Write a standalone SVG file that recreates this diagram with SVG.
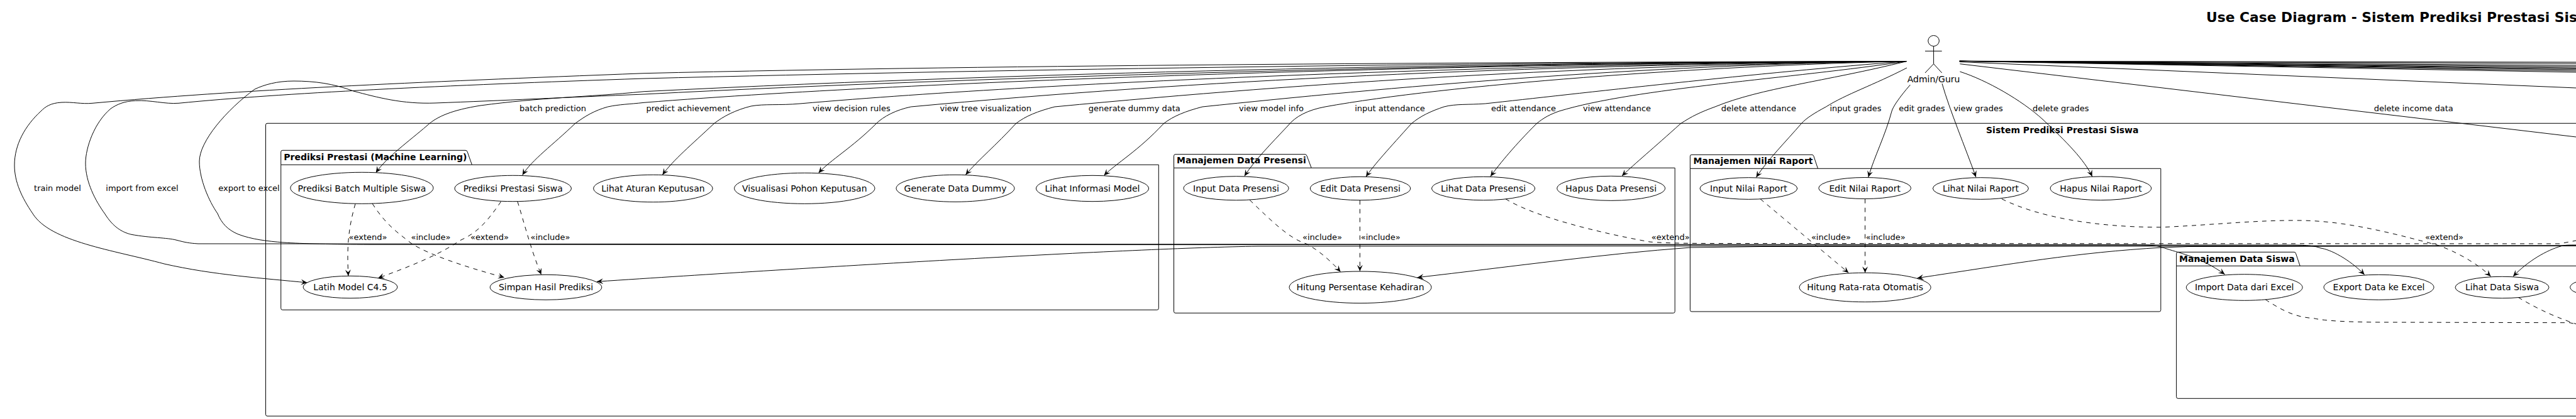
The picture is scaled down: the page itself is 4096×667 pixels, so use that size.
<svg xmlns="http://www.w3.org/2000/svg" width="4096" height="667" viewBox="0 0 4096 667">
<style>
text{font-family:"DejaVu Sans",sans-serif;fill:#000}
.n{font-size:14px;text-anchor:middle}
.l{font-size:13px;text-anchor:middle}
.b{font-size:14px;font-weight:bold}
.t{font-size:21.8px;font-weight:bold}
.p{fill:none;stroke:#000;stroke-width:1}
ellipse{fill:#fff;stroke:#000;stroke-width:1}
.s{fill:none;stroke:#000;stroke-width:1}
.c{fill:none;stroke:#000;stroke-width:1;marker-end:url(#a)}
.d{stroke-dasharray:7 7}
.e{fill:none;stroke:#000;stroke-width:1;stroke-dasharray:7 7}
</style>
<defs>
<marker id="a" markerUnits="userSpaceOnUse" markerWidth="12" markerHeight="12" refX="10" refY="6" orient="auto"><path d="M10 6L0 1.5L4 6L0 10.5Z" fill="#000"/></marker>
</defs>
<rect width="4096" height="667" fill="#fff"/>
<g id="packages">
<path class="p" d="M4096 196.3H425Q422.5 196.3 422.5 198.8V659.8Q422.5 662.3 425 662.3H4096"/>
<path class="p" d="M446.7 262.3V241.8Q446.7 239.3 449.2 239.3H740Q742.6 239.3 743.2 241.8L750.4 262.3H1842.3V490.8Q1842.3 493.3 1839.8 493.3H449.2Q446.7 493.3 446.7 490.8V262.3H750.4"/>
<path class="p" d="M1866.5 267.3V248.2Q1866.5 245.7 1869 245.7H2075Q2077.4 245.7 2078 248.2L2085.2 267.3H2663.2V495.8Q2663.2 498.3 2660.7 498.3H1869Q1866.5 498.3 1866.5 495.8V267.3H2085.2"/>
<path class="p" d="M2687.4 268.3V248.8Q2687.4 246.3 2689.9 246.3H2881Q2883.3 246.3 2884 248.8L2890.5 268.3H3435.8V493.5Q3435.8 496 3433.3 496H2689.9Q2687.4 496 2687.4 493.5V268.3H2890.5"/>
<path class="p" d="M4096 423.3H3460.6V403.8Q3460.6 401.3 3463.1 401.3H3648Q3650 401.3 3650.6 403.8L3657.2 423.3M3460.6 423.3V631.8Q3460.6 634.3 3463.1 634.3H4096"/>
<text class="b" x="3158" y="212">Sistem Prediksi Prestasi Siswa</text>
<text class="b" x="451.3" y="255">Prediksi Prestasi (Machine Learning)</text>
<text class="b" x="1871" y="260">Manajemen Data Presensi</text>
<text class="b" x="2692.6" y="261">Manajemen Nilai Raport</text>
<text class="b" x="3465" y="417">Manajemen Data Siswa</text>
</g>
<g id="connectors">
<path class="c" d="M3032 97.5C2400 99 1600 103 1024 116.7C650 131 380 143 147 164.3C130 166 115 162 98 163C80 164 72 170 65 177C40 200 23 230 23 263C23 290 35 315 52 340C80 385 180 398 261 420C340 438 420 443 488.5 450"/>
<path class="c" d="M3032 97.5C2400 99 1600 110 1024 125C700 136 450 148 284 164.3C262 166 240 159 215.5 160.3C198 161 186 166 176 173C150 195 136 235 136 260C136 290 152 320 166.5 340C180 362 195 370 209 373.3C240 379 265 378 281 382.3C295 386 300 387 315 388L3400 389.5C3425 390 3430 391 3445 396C3470 404 3500 410 3537.6 436.7"/>
<path class="c" d="M3032 97.5C2400 100 1600 120 1024 150C900 155 800 160 692 164C640 166 600 155 562 145C530 133 500 129 467 129C440 129 420 135 405 142C360 175 317 225 317 257C317 285 332 320 346 340C352 355 362 366 379 373C400 381 425 384 451 386C480 388 530 389 588 389.3L3640 390C3665 390 3680 391 3690 395C3705 397 3735 412 3759.7 437.3"/>
<path class="c" d="M3032 97.5C2400 100 1700 112 1024 145.7C930 155 860 155 764 168C720 175 695 185 679 200C650 225 615 250 597.6 275"/>
<path class="c" d="M3032 97.5C2400 100 1500 125 1024 163.3C1000 166 985 166 966.5 170C945 176 930 185 914 197C880 230 845 255 830.7 278.7"/>
<path class="c" d="M3032 97.5C2400 102 1700 128 1272 165C1240 168 1215 165 1194 169C1170 175 1150 185 1135 197C1100 230 1070 255 1053.4 278.3"/>
<path class="c" d="M3032 97.5C2400 104 1900 128 1448.5 170C1425 175 1405 185 1393 197C1355 235 1320 255 1301.6 275.3"/>
<path class="c" d="M3032 97.5C2500 105 2100 130 1677 170C1650 177 1630 185 1615 197C1585 230 1555 255 1535.4 278.3"/>
<path class="c" d="M3032 97.5C2600 103 2200 140 1912 170C1885 177 1865 185 1850 197C1810 240 1775 260 1755.4 279.3"/>
<path class="c" d="M3032 97.5C2700 105 2300 135 2107 170C2080 175 2060 185 2048 200C2020 230 1995 255 1978.8 280.3"/>
<path class="c" d="M3032 97.5C2800 115 2500 150 2361.5 165C2335 167 2315 165 2296 170C2275 177 2258 185 2244 197C2210 235 2185 262 2172 281.3"/>
<path class="c" d="M3032 97.5C2850 125 2600 140 2479 177C2465 182 2455 187 2443 197C2410 230 2385 260 2370 280.7"/>
<path class="c" d="M3032 97.5C2900 130 2800 140 2727 170C2705 178 2690 185 2672 197C2630 235 2600 260 2579 280"/>
<path class="c" d="M3032 108C2980 135 2935 150 2903.5 170C2885 180 2872 188 2864 197C2840 225 2810 255 2792.5 282.3"/>
<path class="c" d="M3037.4 135C3020 155 3010 170 3008 177C2998 215 2980 250 2970.8 282"/>
<path class="c" d="M3088 133C3100 175 3125 235 3141.9 282"/>
<path class="c" d="M3116.4 114C3160 128 3215 160 3248 190C3285 225 3315 255 3326.7 281"/>
<path class="s" d="M3115.8 97.3L4096 99M3115.8 97.3L4096 101M3115.8 97.3L4096 104M3115.8 97.3L4096 106M3115.8 97.3L4096 108M3115.8 97.3L4096 109.5M3115.8 97.3L4096 111M3115.8 97.3L4096 113M3115.8 97.3L4096 115M3115.8 98.5L4096 140M3116.4 101.7L4096 218"/>
<path class="c" d="M4096 391L2000 392C1800 395 1300 425 949 448.3"/>
<path class="c" d="M4096 391L2800 392.5L2688 394C2550 404 2400 425 2253.7 441.7"/>
<path class="c" d="M4096 391.5L3480 392.5L3438 394C3300 402 3200 420 3048.5 442.7"/>
<path class="c" d="M4096 390C4085 390 4078 390 4072.7 391.7C4050 398 4020 415 3996 440"/>
<path class="c d" d="M565 324.3C552 370 552 400 553.8 439.3"/>
<path class="c d" d="M592 324C615 360 635 372 653 386.7C680 405 740 425 802 441.7"/>
<path class="c d" d="M796.7 320.7C770 360 755 372 731 383C700 405 650 425 601 442.7"/>
<path class="c d" d="M822.9 320.7C835 360 845 400 860.7 437.3"/>
<path class="c d" d="M1987 318.3C2020 350 2050 380 2077 388C2100 400 2120 420 2131.6 432.7"/>
<path class="c d" d="M2162.3 318.7L2162.3 431.7"/>
<path class="c d" d="M2799 316.7L2939.4 434.3"/>
<path class="c d" d="M2965.6 316.7L2965.6 434.3"/>
<path class="e" d="M2394 316.7C2440 345 2540 370 2623 385C2650 387.5 2700 387.5 2760 387.5L4070 388L4096 383"/>
<path class="c d" d="M3183 316.7C3240 345 3330 362 3438 361.7C3520 358 3590 350 3660 351C3730 352 3800 370 3875 390C3905 400 3940 420 3960.5 440"/>
<path class="e" d="M3602 476.7C3630 495 3650 505 3679 506.7C3700 512 3760 513 3790 513L4086 513.7L4096 516"/>
<path class="e" d="M4004 473.3C4040 495 4070 507 4096 515.7"/>
</g>
<g id="connector-labels">
<text class="l" x="91.5" y="304">train model</text>
<text class="l" x="226" y="304">import from excel</text>
<text class="l" x="396" y="304">export to excel</text>
<text class="l" x="879" y="177">batch prediction</text>
<text class="l" x="1094.5" y="177">predict achievement</text>
<text class="l" x="1353.8" y="177">view decision rules</text>
<text class="l" x="1567.3" y="177">view tree visualization</text>
<text class="l" x="1803.8" y="177">generate dummy data</text>
<text class="l" x="2021.5" y="177">view model info</text>
<text class="l" x="2210" y="177">input attendance</text>
<text class="l" x="2422.5" y="177">edit attendance</text>
<text class="l" x="2571" y="177">view attendance</text>
<text class="l" x="2796.4" y="177">delete attendance</text>
<text class="l" x="2950.5" y="177">input grades</text>
<text class="l" x="3056" y="177">edit grades</text>
<text class="l" x="3145.5" y="177">view grades</text>
<text class="l" x="3276.8" y="177">delete grades</text>
<text class="l" x="3837.7" y="177">delete income data</text>
<text class="l" x="585" y="382">«extend»</text>
<text class="l" x="685" y="382">«include»</text>
<text class="l" x="778.5" y="382">«extend»</text>
<text class="l" x="875" y="382">«include»</text>
<text class="l" x="2102.5" y="382">«include»</text>
<text class="l" x="2195.3" y="382">«include»</text>
<text class="l" x="2656.3" y="382">«extend»</text>
<text class="l" x="2911.4" y="382">«include»</text>
<text class="l" x="2998.3" y="382">«include»</text>
<text class="l" x="3886.4" y="382">«extend»</text>
</g>
<g id="uc-batch"><ellipse cx="575.4" cy="299.3" rx="113.6" ry="25"/><text class="n" x="575.4" y="305">Prediksi Batch Multiple Siswa</text></g>
<g id="uc-prediksi"><ellipse cx="815.7" cy="300" rx="92.7" ry="20.7"/><text class="n" x="815.7" y="305">Prediksi Prestasi Siswa</text></g>
<g id="uc-aturan"><ellipse cx="1038.4" cy="300" rx="94.7" ry="21.7"/><text class="n" x="1038.4" y="305">Lihat Aturan Keputusan</text></g>
<g id="uc-pohon"><ellipse cx="1279.3" cy="299.8" rx="111.7" ry="24.5"/><text class="n" x="1279.3" y="305">Visualisasi Pohon Keputusan</text></g>
<g id="uc-dummy"><ellipse cx="1519" cy="299.8" rx="94" ry="21.5"/><text class="n" x="1519" y="305">Generate Data Dummy</text></g>
<g id="uc-info"><ellipse cx="1737" cy="300" rx="89.5" ry="20.7"/><text class="n" x="1737" y="305">Lihat Informasi Model</text></g>
<g id="uc-latih"><ellipse cx="557" cy="457" rx="75" ry="17.7"/><text class="n" x="557" y="462">Latih Model C4.5</text></g>
<g id="uc-simpan"><ellipse cx="868" cy="457.3" rx="88.8" ry="20"/><text class="n" x="868" y="462">Simpan Hasil Prediksi</text></g>
<g id="uc-input-presensi"><ellipse cx="1965.5" cy="299.7" rx="83.5" ry="19"/><text class="n" x="1965.5" y="305">Input Data Presensi</text></g>
<g id="uc-edit-presensi"><ellipse cx="2163" cy="300" rx="79.7" ry="18.7"/><text class="n" x="2163" y="305">Edit Data Presensi</text></g>
<g id="uc-lihat-presensi"><ellipse cx="2358.6" cy="300" rx="82" ry="18.7"/><text class="n" x="2358.6" y="305">Lihat Data Presensi</text></g>
<g id="uc-hapus-presensi"><ellipse cx="2561.7" cy="299.8" rx="85.9" ry="19.5"/><text class="n" x="2561.7" y="305">Hapus Data Presensi</text></g>
<g id="uc-kehadiran"><ellipse cx="2163" cy="457.3" rx="113" ry="25.3"/><text class="n" x="2163" y="462">Hitung Persentase Kehadiran</text></g>
<g id="uc-input-nilai"><ellipse cx="2780.4" cy="300" rx="77.4" ry="17.3"/><text class="n" x="2780.4" y="305">Input Nilai Raport</text></g>
<g id="uc-edit-nilai"><ellipse cx="2965.2" cy="299.5" rx="73.4" ry="17"/><text class="n" x="2965.2" y="305">Edit Nilai Raport</text></g>
<g id="uc-lihat-nilai"><ellipse cx="3149.4" cy="300" rx="76" ry="17.3"/><text class="n" x="3149.4" y="305">Lihat Nilai Raport</text></g>
<g id="uc-hapus-nilai"><ellipse cx="3340.4" cy="299.8" rx="80.3" ry="18.8"/><text class="n" x="3340.4" y="305">Hapus Nilai Raport</text></g>
<g id="uc-rata"><ellipse cx="2965.6" cy="457.5" rx="104.5" ry="23.2"/><text class="n" x="2965.6" y="462">Hitung Rata-rata Otomatis</text></g>
<g id="uc-import"><ellipse cx="3568.7" cy="457.5" rx="92.4" ry="20.8"/><text class="n" x="3568.7" y="462">Import Data dari Excel</text></g>
<g id="uc-export"><ellipse cx="3782.5" cy="457.3" rx="87.5" ry="20"/><text class="n" x="3782.5" y="462">Export Data ke Excel</text></g>
<g id="uc-lihat-siswa"><ellipse cx="3978.5" cy="457.5" rx="74.5" ry="17.2"/><text class="n" x="3978.5" y="462">Lihat Data Siswa</text></g>
<g id="uc-clipped"><ellipse cx="4166.7" cy="457.3" rx="80" ry="18"/></g>
<g id="actor-admin">
<ellipse cx="3074.6" cy="65" rx="8.8" ry="8.5"/>
<path class="s" d="M3074.6 73.5V101.7M3061 81.3H3087.7M3074.6 101.7L3061 116M3074.6 101.7L3087.7 116"/>
<text class="n" x="3074.6" y="131">Admin/Guru</text>
</g>
<text class="t" x="3508" y="35">Use Case Diagram - Sistem Prediksi Prestasi Siswa</text>
</svg>
